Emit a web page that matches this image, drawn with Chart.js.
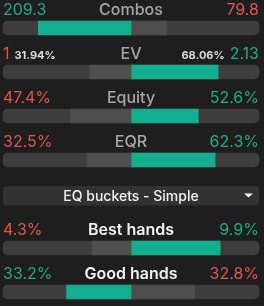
<!DOCTYPE html>
<html>
<head>
<meta charset="utf-8">
<script src="https://cdn.jsdelivr.net/npm/chart.js@4.4.0/dist/chart.umd.min.js"></script>
<style>
  html, body { margin: 0; padding: 0; background: #1e1e1e; }
  #wrap { width: 264px; height: 306px; }
</style>
</head>
<body>
<div id="wrap"><canvas id="c" width="264" height="306"></canvas></div>
<script>
// ---- data ----
const rowLabels = ['Combos', 'EV', 'Equity', 'EQR', 'EQ buckets - Simple', 'Best hands', 'Good hands'];
const dropdownRow = 4;
const leftValues  = [209.3, 1, 47.4, 32.5, null, 4.3, 33.2];
const rightValues = [79.8, 2.13, 52.6, 62.3, null, 9.9, 32.8];
const leftTexts   = ['209.3', '1', '47.4%', '32.5%', '', '4.3%', '33.2%'];
const rightTexts  = ['79.8', '2.13', '52.6%', '62.3%', '', '9.9%', '32.8%'];
const evShareLeft = '31.94%';
const evShareRight = '68.06%';

// ---- colours ----
const TEAL = '#13ae8e';
const GREEN_TXT = '#1faa89';
const RED_TXT = '#e5534f';
const TRACK = '#3d3d3d';
const LIGHT = '#4e4e4e';
const FONT = 'Inter, "DejaVu Sans", sans-serif';

const leftShare = leftValues.map((l, i) => l == null ? null : l / (l + rightValues[i]));
const rightShare = rightValues.map((r, i) => r == null ? null : r / (leftValues[i] + r));
const leftGreen = leftValues.map((l, i) => l != null && l > rightValues[i]);

const leftBars = leftShare.map(s => s == null ? null : [-s, 0]);
const rightBars = rightShare.map(s => s == null ? null : [0, s]);
const trackBars = leftValues.map(l => l == null ? null : [-1, 1]);

const textPlugin = {
  id: 'texts',
  afterDatasetsDraw(chart) {
    const ctx = chart.ctx;
    const ys = chart.scales.y;
    const area = chart.chartArea;
    const cx = (area.left + area.right) / 2;
    ctx.save();
    rowLabels.forEach((lab, i) => {
      const y = ys.getPixelForValue(i);
      if (i === dropdownRow) {
        const top = y - 18, h = 19.5;
        ctx.fillStyle = '#323232';
        ctx.beginPath();
        ctx.roundRect(area.left, top, area.right - area.left, h, 4);
        ctx.fill();
        ctx.fillStyle = '#f2f2f2';
        ctx.font = '500 14px ' + FONT;
        ctx.textAlign = 'center';
        ctx.textBaseline = 'alphabetic';
        ctx.fillText(lab, cx, y - 3.5);
        ctx.beginPath();
        ctx.moveTo(244, top + 7.5);
        ctx.lineTo(253, top + 7.5);
        ctx.lineTo(248.5, top + 11.5);
        ctx.closePath();
        ctx.fill();
        return;
      }
      const base = y - 13;
      ctx.textBaseline = 'alphabetic';
      // centre label
      const bucket = i > dropdownRow;
      ctx.font = (bucket ? '600 ' : '500 ') + '16px ' + FONT;
      ctx.fillStyle = bucket ? '#f2f2f2' : '#a6a6a6';
      ctx.textAlign = 'center';
      ctx.fillText(lab, cx, base);
      // side values
      ctx.font = '400 16px ' + FONT;
      ctx.textAlign = 'left';
      ctx.fillStyle = leftGreen[i] ? GREEN_TXT : RED_TXT;
      ctx.fillText(leftTexts[i], area.left, base);
      ctx.textAlign = 'right';
      ctx.fillStyle = leftGreen[i] ? RED_TXT : GREEN_TXT;
      ctx.fillText(rightTexts[i], area.right, base);
      if (i === 1) {
        const lw = ctx.measureText(leftTexts[i]).width;
        const rw = ctx.measureText(rightTexts[i]).width;
        ctx.font = '700 11px ' + FONT;
        ctx.fillStyle = '#dcdcdc';
        ctx.textAlign = 'left';
        ctx.fillText(evShareLeft, area.left + lw + 5, base - 0.5);
        ctx.textAlign = 'right';
        ctx.fillText(evShareRight, area.right - rw - 5, base - 0.5);
      }
    });
    ctx.restore();
  }
};

new Chart(document.getElementById('c'), {
  type: 'bar',
  data: {
    labels: rowLabels,
    datasets: [
      {
        label: 'left',
        data: leftBars,
        backgroundColor: leftGreen.map(g => g ? TEAL : LIGHT),
        borderRadius: 0,
        borderSkipped: false,
        order: 1
      },
      {
        label: 'right',
        data: rightBars,
        backgroundColor: leftGreen.map(g => g ? LIGHT : TEAL),
        borderRadius: 0,
        borderSkipped: false,
        order: 1
      },
      {
        label: 'track',
        data: trackBars,
        backgroundColor: TRACK,
        borderRadius: 5,
        borderSkipped: false,
        order: 2
      }
    ]
  },
  options: {
    indexAxis: 'y',
    responsive: false,
    animation: false,
    devicePixelRatio: 1,
    layout: { padding: { left: 3, right: 5, top: 28, bottom: 14 } },
    datasets: { bar: { barThickness: 14, grouped: false, clip: false } },
    scales: {
      x: { type: 'linear', min: -1, max: 1, display: false },
      y: { type: 'category', offset: false, display: false }
    },
    plugins: { legend: { display: false }, tooltip: { enabled: false } }
  },
  plugins: [textPlugin]
});
</script>
</body>
</html>
